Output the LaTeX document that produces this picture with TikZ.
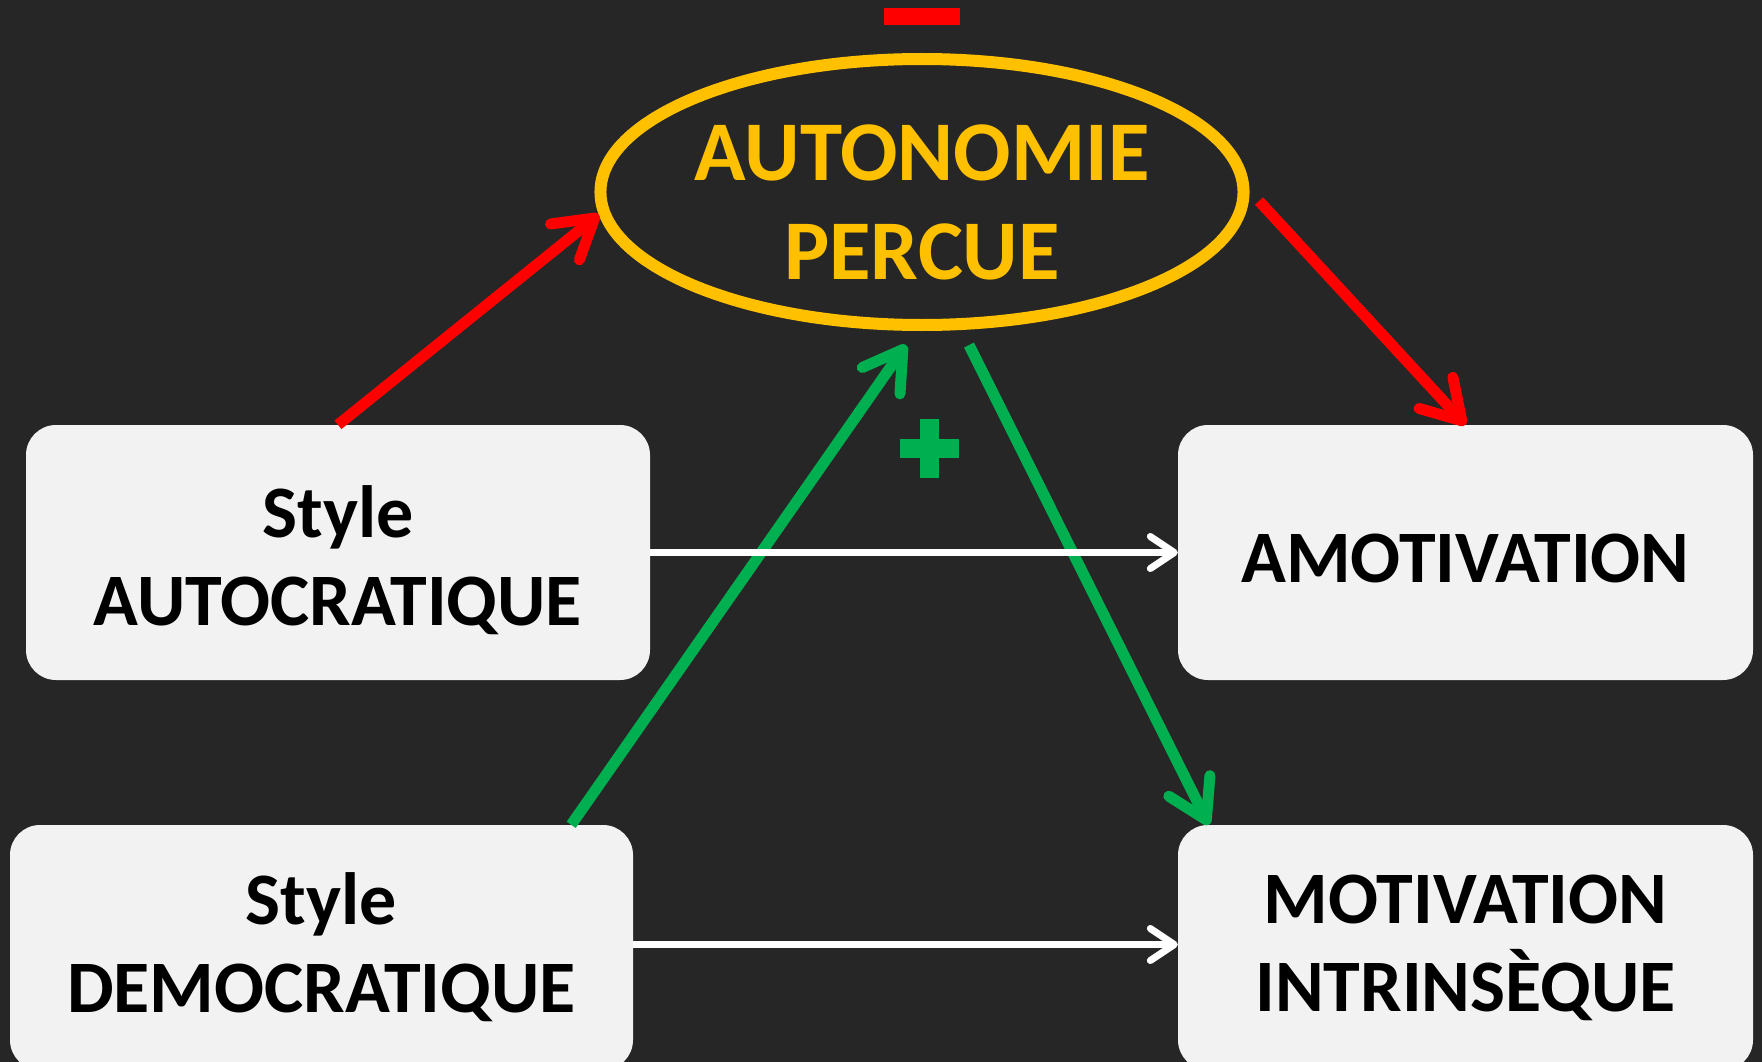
\documentclass[tikz,border=0pt]{standalone}
\usepackage{fontspec}
\setmainfont{Carlito}
\usepackage{xcolor}
\usetikzlibrary{arrows.meta}
\usetikzlibrary{shapes.geometric}
\definecolor{bgdark}{HTML}{262626}
\definecolor{boxgray}{HTML}{F2F2F2}
\definecolor{gold}{HTML}{FFC000}
\definecolor{lgreen}{HTML}{00B050}
\definecolor{pred}{HTML}{FF0000}
\begin{document}
\begin{tikzpicture}[x=1pt,y=-1pt,
    every node/.style={black,font=\bfseries},
    boxnode/.style={fill=boxgray,rounded corners=30pt,align=center,inner sep=0pt,
        font=\bfseries\fontsize{74}{88}\selectfont},
    redarrow/.style={pred,line width=11pt,-{Straight Barb[round,length=38pt,width=46pt]}},
    greenarrow/.style={lgreen,line width=11pt,-{Straight Barb[round,length=38pt,width=46pt]}},
    whitearrow/.style={white,line width=7pt,-{Straight Barb[round,length=24pt,width=32pt]}}]
    \fill[bgdark] (0,0) rectangle (1762,1062);
    \useasboundingbox (0,0) rectangle (1762,1062);

    \node[boxnode,minimum width=624pt,minimum height=255pt] (auto) at (338,552.5)
        {\rule{0pt}{67pt}Style\\AUTOCRATIQUE};
    \node[boxnode,minimum width=623pt,minimum height=245pt] (demo) at (321.5,947.5)
        {Style\\DEMOCRATIQUE};
    \node[boxnode,minimum width=575pt,minimum height=255pt] (amot) at (1465.5,552.5)
        {\rule{0pt}{60pt}AMOTIVATION};
    \node[boxnode,minimum width=575pt,minimum height=245pt] (intr) at (1465.5,947.5)
        {MOTIVATION\\INTRINSÈQUE};

    \node[ellipse,draw=gold,line width=12pt,minimum width=632pt,minimum height=266pt,
        inner sep=0pt,align=center,text=gold,font=\bfseries\fontsize{85}{99}\selectfont]
        (auton) at (922,192) {\rule{0pt}{76pt}AUTONOMIE\\PERCUE};

    % signs
    \fill[pred] (884,8) rectangle (960,25);
    \fill[lgreen] (900,439) rectangle (959,458);
    \fill[lgreen] (920,419) rectangle (939,478);

    \coordinate (redstart) at (1259,201);
    \coordinate (greentip) at (906,345);
    \coordinate (greenstart) at (969,345);

    \draw[redarrow] (auto.north) -- (auton.184);
    \draw[redarrow] (redstart) -- (amot.north);
    \draw[greenarrow] ([xshift=-62pt]demo.north east) -- (greentip);
    \draw[greenarrow] (greenstart) -- ([xshift=31pt]intr.north west);
    \draw[whitearrow] (auto.east) -- (amot.west);
    \draw[whitearrow] ([yshift=3pt]demo.east) -- ([yshift=3pt]intr.west);
\end{tikzpicture}
\end{document}
